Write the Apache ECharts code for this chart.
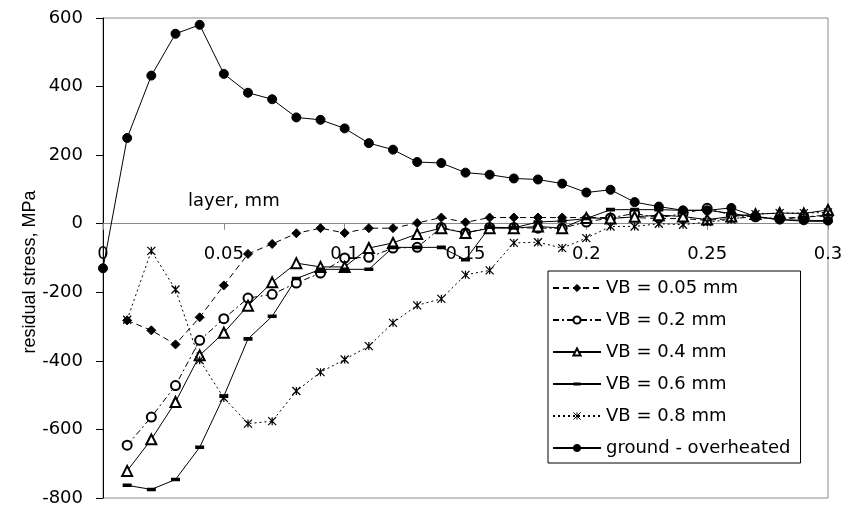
<!DOCTYPE html>
<html>
<head>
<meta charset="utf-8">
<script src="https://cdn.jsdelivr.net/npm/echarts@6/dist/echarts.min.js"></script>
<style>
  html, body { margin: 0; padding: 0; background: #fff; }
  #chart { width: 844px; height: 508px; }
</style>
</head>
<body>
<div id="chart"></div>
<script>
// Layer depth below the surface (mm)
const depth = [0.01, 0.02, 0.03, 0.04, 0.05, 0.06, 0.07, 0.08, 0.09, 0.10,
               0.11, 0.12, 0.13, 0.14, 0.15, 0.16, 0.17, 0.18, 0.19, 0.20,
               0.21, 0.22, 0.23, 0.24, 0.25, 0.26, 0.27, 0.28, 0.29, 0.30];
const groundDepth = [0.00, 0.01, 0.02, 0.03, 0.04, 0.05, 0.06, 0.07, 0.08, 0.09, 0.10,
                     0.11, 0.12, 0.13, 0.14, 0.15, 0.16, 0.17, 0.18, 0.19, 0.20,
                     0.21, 0.22, 0.23, 0.24, 0.25, 0.26, 0.27, 0.28, 0.29, 0.30];

// Residual stress (MPa) for each flank wear level VB
const vb005 = [-282, -311, -352, -273, -180, -88, -59, -28, -13, -27,
               -13, -13, 2, 18, 4, 18, 18, 18, 18, 18,
               18, 18, 15, 15, 10, 15, 20, 12, 20, 22];
const vb02  = [-646, -564, -472, -340, -277, -217, -206, -173, -144, -100,
               -98, -71, -69, -11, -27, -11, -11, -13, -13, 5,
               17, 30, 17, 30, 45, 25, 20, 15, 20, 25];
const vb04  = [-721, -629, -520, -384, -318, -239, -171, -115, -126, -126,
               -71, -56, -30, -13, -27, -13, -13, -8, -13, 17,
               15, 20, 25, 21, 12, 21, 28, 31, 30, 40];
const vb06  = [-763, -775, -746, -652, -503, -336, -270, -160, -133, -133,
               -133, -69, -69, -69, -105, -10, -12, 5, 8, 15,
               41, 41, 41, 39, 39, 30, 20, 12, 7, 7];
const vb08  = [-280, -79, -192, -398, -508, -583, -576, -488, -433, -396,
               -357, -289, -238, -219, -149, -136, -56, -54, -71, -42,
               -8, -8, 0, -3, 5, 12, 28, 31, 31, 33];
const ground = [-130, 250, 432, 554, 580, 437, 382, 363, 310, 303, 278,
                235, 216, 180, 177, 149, 143, 132, 129, 117, 91,
                99, 63, 50, 39, 39, 46, 21, 12, 10, 9];

const seriesNames = ['VB = 0.05 mm', 'VB = 0.2 mm', 'VB = 0.4 mm',
                     'VB = 0.6 mm', 'VB = 0.8 mm', 'ground - overheated'];
const xTitle = 'layer, mm';
const yTitle = 'residual stress, MPa';

const X_MIN = 0, X_MAX = 0.3, X_STEP = 0.05;
const Y_MIN = -800, Y_MAX = 600, Y_STEP = 200;

const WIDE_FONT = 'DejaVu Sans';
const NARROW_FONT = 'Liberation Sans';

// Plot box
const GRID = { left: 103, right: 16, top: 18, bottom: 10 };
const CHART_H = 508;
const plotH = CHART_H - GRID.top - GRID.bottom;
// Lift the x axis from the bottom edge up to the y = 0 line
const xAxisOffset = -plotH * (0 - Y_MIN) / (Y_MAX - Y_MIN);

// Short horizontal bar marker, padded to a square box so it keeps its shape when drawn square
const BAR_MARK = 'path://M0,0L0.01,0L0,0.01Z M0,3H10V7H0Z M10,10L9.99,10L10,9.99Z';
const STAR_MARK = 'path://M0,0L10,10M10,0L0,10M5,0L5,10';

function pairs(xs, ys) {
  return ys.map((v, i) => [xs[i], v]);
}

function lineSeries(name, xs, ys, symbol, symbolSize, dash, itemStyle) {
  return {
    name: name,
    type: 'line',
    data: pairs(xs, ys),
    symbol: symbol,
    symbolSize: symbolSize,
    showSymbol: true,
    showAllSymbol: true,
    animation: false,
    lineStyle: { color: '#000', width: 1, type: dash },
    itemStyle: Object.assign({ color: '#000', borderColor: '#000', borderWidth: 1 }, itemStyle || {}),
    emphasis: { disabled: true }
  };
}

const chart = echarts.init(document.getElementById('chart'), null, { renderer: 'canvas' });

chart.setOption({
  backgroundColor: '#fff',
  animation: false,
  grid: {
    left: GRID.left, right: GRID.right, top: GRID.top, bottom: GRID.bottom,
    outerBoundsMode: 'none',
    containLabel: false,
    show: true, borderColor: '#8a8a8a', borderWidth: 1, backgroundColor: 'transparent'
  },
  xAxis: {
    type: 'value',
    min: X_MIN, max: X_MAX, interval: X_STEP,
    position: 'bottom',
    offset: xAxisOffset,
    axisLine: { onZero: false, lineStyle: { color: '#8a8a8a', width: 1 } },
    axisTick: { show: true, length: 6, lineStyle: { color: '#8a8a8a' } },
    axisLabel: { margin: 22, color: '#000', fontFamily: WIDE_FONT, fontSize: 18 },
    splitLine: { show: false }
  },
  yAxis: {
    type: 'value',
    min: Y_MIN, max: Y_MAX, interval: Y_STEP,
    axisLine: { show: true, onZero: false, lineStyle: { color: '#000', width: 1 } },
    axisTick: { show: true, length: 7, lineStyle: { color: '#000' } },
    axisLabel: { margin: 20, color: '#000', fontFamily: WIDE_FONT, fontSize: 18 },
    splitLine: { show: false }
  },
  legend: {
    data: seriesNames.map((n, i) => i === 3 ? { name: n, itemStyle: { borderWidth: 0 } } : n),
    orient: 'vertical',
    left: 548, top: 271,
    itemWidth: 48, itemHeight: 9, itemGap: 14,
    padding: [8, 10, 6, 4],
    borderColor: '#000', borderWidth: 1, backgroundColor: '#fff',
    itemStyle: { borderWidth: 1 },
    textStyle: { color: '#000', fontFamily: WIDE_FONT, fontSize: 18 },
    selectedMode: false
  },
  graphic: [
    {
      type: 'text', left: 188, top: 192, silent: true,
      style: { text: xTitle, fill: '#000', font: '18px "' + WIDE_FONT + '"' }
    },
    {
      type: 'text', x: 30, y: 272, rotation: Math.PI / 2, silent: true,
      style: {
        text: yTitle, fill: '#000', font: '18px "' + NARROW_FONT + '"',
        align: 'center', verticalAlign: 'middle'
      }
    }
  ],
  series: [
    lineSeries(seriesNames[0], depth, vb005, 'diamond', 9, [6, 4]),
    lineSeries(seriesNames[1], depth, vb02, 'emptyCircle', 9, [6, 3, 2, 3]),
    lineSeries(seriesNames[2], depth, vb04, 'emptyTriangle', 10, 'solid'),
    lineSeries(seriesNames[3], depth, vb06, BAR_MARK, 9, 'solid', { borderWidth: 0 }),
    lineSeries(seriesNames[4], depth, vb08, STAR_MARK, 8, [2, 3], { borderWidth: 1.2 }),
    lineSeries(seriesNames[5], groundDepth, ground, 'circle', 9, 'solid')
  ]
});
</script>
</body>
</html>
